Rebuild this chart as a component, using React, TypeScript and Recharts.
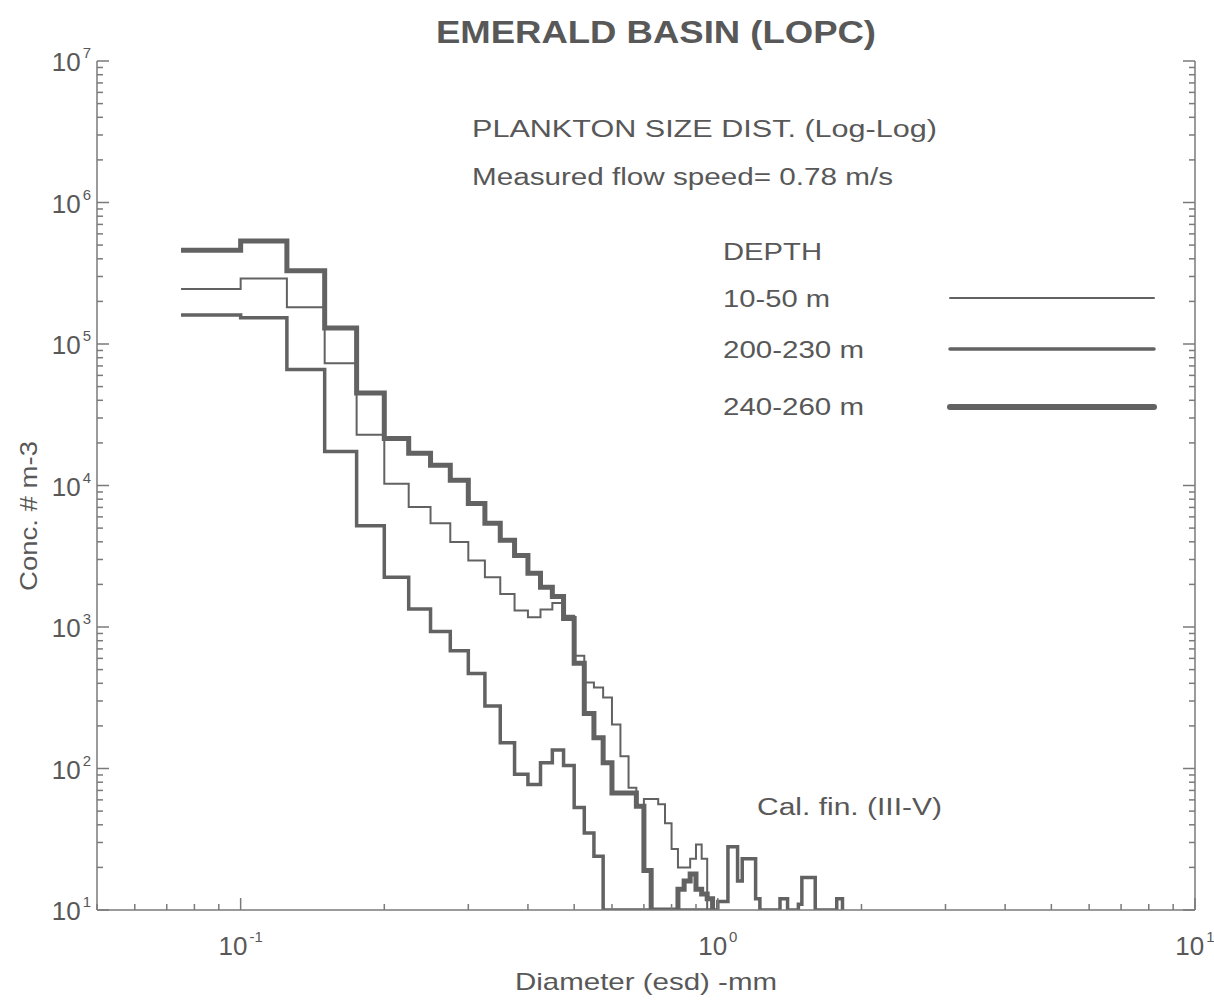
import React from 'react';
import { LineChart, Line, XAxis, YAxis } from 'recharts';

// lower edge of each size bin (mm esd)
const BIN_EDGES = [
  0.075, 0.1, 0.125, 0.15, 0.175, 0.2, 0.225, 0.25, 0.275, 0.3,
  0.325, 0.35, 0.375, 0.4, 0.425, 0.45, 0.475, 0.5, 0.525, 0.55,
  0.575, 0.6, 0.625, 0.65, 0.675, 0.7, 0.725, 0.75, 0.775, 0.8,
  0.825, 0.85, 0.875, 0.9, 0.925, 0.95, 0.975, 1.0, 1.025, 1.05,
  1.075, 1.1, 1.125, 1.15, 1.175, 1.2, 1.225, 1.25, 1.275, 1.3,
  1.325, 1.35, 1.375, 1.4, 1.425, 1.45, 1.475, 1.5, 1.525, 1.55,
  1.575, 1.6, 1.625, 1.65, 1.675, 1.7, 1.725, 1.75, 1.775, 1.8,
  1.825, 1.85,
];

// concentration (# m-3) per bin, 0 = empty bin
const DEPTH_10_50 = [
  2.45e5, 2.9e5, 1.82e5, 7.3e4, 2.28e4, 1.03e4, 7.06e3, 5.4e3, 3.98e3, 2.95e3,
  2.25e3, 1.71e3, 1.31e3, 1.17e3, 1.33e3, 1.48e3, 1.2e3, 627, 405, 374,
  317, 205, 122, 73, 55, 61, 61, 56, 41, 27,
  20, 20, 23, 29, 23,
];

const DEPTH_200_230 = [
  1.6e5, 1.53e5, 6.6e4, 1.74e4, 5.2e3, 2.25e3, 1.34e3, 930, 680, 470,
  277, 152, 91, 77, 110, 135, 105, 53, 35, 24,
  0, 0, 0, 0, 0, 0, 0, 0, 0, 0,
  0, 0, 0, 0, 0, 0, 0, 11.5, 11.5, 28,
  28, 16, 23, 23, 23, 12, 0, 0, 0, 0,
  0, 12, 12, 0, 0, 0, 11, 17, 17, 17,
  17, 0, 0, 0, 0, 0, 0, 0, 12, 12,
];

const DEPTH_240_260 = [
  4.6e5, 5.35e5, 3.3e5, 1.3e5, 4.5e4, 2.15e4, 1.69e4, 1.39e4, 1.09e4, 7.45e3,
  5.4e3, 4.1e3, 3.2e3, 2.4e3, 1.91e3, 1.64e3, 1.15e3, 555, 245, 165,
  110, 67, 67, 67, 54, 19, 0, 0, 0, 0,
  14, 16, 18, 14, 13, 12,
];

const X_TICKS = [
  0.05, 0.06, 0.07, 0.08, 0.09, 0.1, 0.2, 0.3, 0.4, 0.5, 0.6, 0.7, 0.8, 0.9,
  1, 2, 3, 4, 5, 6, 7, 8, 9, 10,
];
const Y_DECADES = [10, 100, 1000, 1e4, 1e5, 1e6];
const Y_TICKS = [...Y_DECADES.flatMap((d) => [1, 2, 3, 4, 5, 6, 7, 8, 9].map((m) => m * d)), 1e7];

const Y_MIN = 10;
const Y_MAX = 1e7;

const FONT = '"Liberation Sans", Arial, Helvetica, sans-serif';
const AXIS = '#7a7a7a';
const INK = '#585858';
const LINE = '#626262';

const toSteps = (counts: number[]) => {
  const pts = counts.map((c, i) => ({ d: BIN_EDGES[i], v: Math.max(c, Y_MIN) }));
  pts.push({ d: BIN_EDGES[counts.length], v: Y_MIN });
  return pts;
};

const isMajor = (v: number) => Math.abs(Math.log10(v) - Math.round(Math.log10(v))) < 1e-6;
const expOf = (v: number) => Math.round(Math.log10(v));

function BottomTick({ x, y, payload }: any) {
  const v = payload.value;
  const major = isMajor(v);
  return (
    <g>
      <line x1={x} x2={x} y1={y} y2={y - (major ? 12 : 6)} stroke={AXIS} strokeWidth={1.5} />
      {major && (
        <text x={x} y={y + 45} textAnchor="middle" fill={INK} fontSize={26} fontFamily={FONT}>
          10
          <tspan dy={-13} dx={2} fontSize={15}>
            {expOf(v)}
          </tspan>
        </text>
      )}
    </g>
  );
}

function TopTick({ x, y, payload }: any) {
  const major = isMajor(payload.value);
  return <line x1={x} x2={x} y1={y} y2={y + (major ? 12 : 6)} stroke={AXIS} strokeWidth={1.5} />;
}

function LeftTick({ x, y, payload }: any) {
  const v = payload.value;
  const major = isMajor(v);
  return (
    <g>
      <line x1={x} x2={x + (major ? 12 : 6)} y1={y} y2={y} stroke={AXIS} strokeWidth={1.5} />
      {major && (
        <text x={x - 6} y={y + 10} textAnchor="end" fill={INK} fontSize={26} fontFamily={FONT}>
          10
          <tspan dy={-13} dx={2} fontSize={15}>
            {expOf(v)}
          </tspan>
        </text>
      )}
    </g>
  );
}

function RightTick({ x, y, payload }: any) {
  const major = isMajor(payload.value);
  return <line x1={x} x2={x - (major ? 12 : 6)} y1={y} y2={y} stroke={AXIS} strokeWidth={1.5} />;
}

const SERIES = [
  { name: '10-50 m', data: toSteps(DEPTH_10_50), width: 2 },
  { name: '200-230 m', data: toSteps(DEPTH_200_230), width: 3.5 },
  { name: '240-260 m', data: toSteps(DEPTH_240_260), width: 5 },
];

const LEGEND_ROWS = [
  { label: '10-50 m', textY: 307, lineY: 298, width: 2 },
  { label: '200-230 m', textY: 358, lineY: 349, width: 3.5 },
  { label: '240-260 m', textY: 415, lineY: 407, width: 6 },
];

function Annotations() {
  const t = { fill: INK, fontFamily: FONT, lengthAdjust: 'spacingAndGlyphs' as const };
  return (
    <svg
      width={1214}
      height={1000}
      style={{ position: 'absolute', left: 0, top: 0, pointerEvents: 'none' }}
    >
      <text {...t} x={656} y={43} textAnchor="middle" fontSize={31} fontWeight="bold" textLength={440}>
        EMERALD BASIN (LOPC)
      </text>
      <text {...t} x={472} y={137} fontSize={23} textLength={465}>
        PLANKTON SIZE DIST.  (Log-Log)
      </text>
      <text {...t} x={472} y={185} fontSize={23} textLength={421}>
        Measured flow speed= 0.78 m/s
      </text>
      <text {...t} x={723} y={260} fontSize={24} textLength={99}>
        DEPTH
      </text>
      {LEGEND_ROWS.map((r) => (
        <g key={r.label}>
          <text {...t} x={723} y={r.textY} fontSize={24} textLength={r.label.length > 7 ? 141 : 107}>
            {r.label}
          </text>
          <line x1={950} x2={1154} y1={r.lineY} y2={r.lineY} stroke={LINE} strokeWidth={r.width} strokeLinecap="round" />
        </g>
      ))}
      <text {...t} x={757} y={815} fontSize={23} textLength={185}>
        Cal. fin. (III-V)
      </text>
      <text {...t} x={646} y={990} textAnchor="middle" fontSize={24} textLength={262}>
        Diameter (esd) -mm
      </text>
      <text
        {...t}
        x={0}
        y={0}
        transform="translate(37 516) rotate(-90)"
        textAnchor="middle"
        fontSize={24}
        textLength={150}
      >
        Conc. # m-3
      </text>
    </svg>
  );
}

export default function App() {
  return (
    <div style={{ position: 'absolute', left: 0, top: 0, width: 1214, height: 1000, background: '#fff' }}>
      <LineChart width={1214} height={1000} margin={{ top: 61, right: 0, bottom: 0, left: 0 }}>
        <XAxis
          dataKey="d"
          type="number"
          scale="log"
          domain={[0.05, 10]}
          allowDataOverflow
          ticks={X_TICKS}
          interval={0}
          height={90}
          tickSize={0}
          tickMargin={0}
          tickLine={false}
          tick={(p: any) => <BottomTick {...p} />}
          axisLine={{ stroke: AXIS, strokeWidth: 1.5 }}
        />
        <XAxis
          xAxisId="top"
          orientation="top"
          dataKey="d"
          type="number"
          scale="log"
          domain={[0.05, 10]}
          allowDataOverflow
          ticks={X_TICKS}
          interval={0}
          height={0}
          tickSize={0}
          tickMargin={0}
          tickLine={false}
          tick={(p: any) => <TopTick {...p} />}
          axisLine={{ stroke: AXIS, strokeWidth: 1.5 }}
        />
        <YAxis
          type="number"
          scale="log"
          domain={[Y_MIN, Y_MAX]}
          allowDataOverflow
          ticks={Y_TICKS}
          interval={0}
          width={97}
          tickSize={0}
          tickMargin={0}
          tickLine={false}
          tick={(p: any) => <LeftTick {...p} />}
          axisLine={{ stroke: AXIS, strokeWidth: 1.5 }}
        />
        <YAxis
          yAxisId="right"
          orientation="right"
          type="number"
          scale="log"
          domain={[Y_MIN, Y_MAX]}
          allowDataOverflow
          ticks={Y_TICKS}
          interval={0}
          width={19}
          tickSize={0}
          tickMargin={0}
          tickLine={false}
          tick={(p: any) => <RightTick {...p} />}
          axisLine={{ stroke: AXIS, strokeWidth: 1.5 }}
        />
        {SERIES.map((s) => (
          <Line
            key={s.name}
            data={s.data}
            dataKey="v"
            name={s.name}
            type="stepAfter"
            stroke={LINE}
            strokeWidth={s.width}
            dot={false}
            activeDot={false}
            isAnimationActive={false}
          />
        ))}
      </LineChart>
      <Annotations />
    </div>
  );
}
